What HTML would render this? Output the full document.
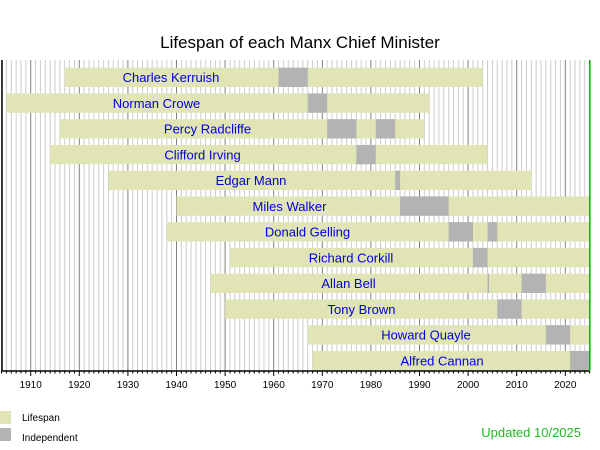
<!DOCTYPE html>
<html><head><meta charset="utf-8"><style>body{margin:0;background:#fff}svg{display:block}text{font-family:"Liberation Sans",sans-serif}</style></head>
<body>
<svg id="s" width="600" height="450" xmlns="http://www.w3.org/2000/svg">
<text x="300" y="48" font-size="17" text-anchor="middle" fill="#000">Lifespan of each Manx Chief Minister</text>
<g id="g"></g>
<text x="22" y="421" font-size="10">Lifespan</text>
<text x="22" y="441" font-size="10">Independent</text>
<rect x="0" y="411" width="11" height="13" fill="#e1e4b4"/>
<rect x="0" y="428" width="11" height="13" fill="#b3b3b3"/>
<text x="581" y="437" font-size="13" text-anchor="end" fill="#22b822">Updated 10/2025</text>
</svg>
<script>
var X=function(y){return 419.5+(y-1990)*4.86};
var h='';
for(var y=1904;y<=2025;y++){var x=X(y);var maj=y%10==0;
h+='<line x1="'+x+'" y1="60" x2="'+x+'" y2="371" stroke="'+(maj?'#808080':'#cccccc')+'" stroke-width="1"/>';
h+='<line x1="'+x+'" y1="371" x2="'+x+'" y2="'+(maj?376:373.5)+'" stroke="#000" stroke-width="1"/>';
if(maj)h+='<text x="'+x+'" y="388" font-size="10" text-anchor="middle">'+y+'</text>';}
var d=[["Charles Kerruish",1917,2003,[[1961,1967]],171],
["Norman Crowe",1905,1992,[[1967,1971]],156.5],
["Percy Radcliffe",1916,1991,[[1971,1977],[1981,1985]],207.5],
["Clifford Irving",1914,2004,[[1977,1981]],202.5],
["Edgar Mann",1926,2013,[[1985,1986]],251],
["Miles Walker",1940,2025,[[1986,1996]],289.5],
["Donald Gelling",1938,2025,[[1996,2001],[2004,2006]],307.5],
["Richard Corkill",1951,2025,[[2001,2004]],351],
["Allan Bell",1947,2025,[[2004,2004.3],[2011,2016]],348.5],
["Tony Brown",1950,2025,[[2006,2011]],361.5],
["Howard Quayle",1967,2025,[[2016,2021]],426],
["Alfred Cannan",1968,2025,[[2021,2025]],442]];
d.forEach(function(r,i){var t=67.7+i*25.75;
h+='<rect x="'+X(r[1])+'" y="'+t+'" width="'+(X(r[2])-X(r[1]))+'" height="19.3" fill="#e1e4b4"/>';
r[3].forEach(function(s){h+='<rect x="'+X(s[0])+'" y="'+t+'" width="'+(X(s[1])-X(s[0]))+'" height="19.3" fill="#b3b3b3"/>';});
h+='<text x="'+r[4]+'" y="'+(t+14.5)+'" font-size="13" text-anchor="middle" fill="#0000dd">'+r[0]+'</text>';});
h+='<line x1="2" y1="60" x2="2" y2="371" stroke="#000" stroke-width="1.5"/>';
h+='<line x1="2" y1="371" x2="590" y2="371" stroke="#000" stroke-width="1.5"/>';
h+='<line x1="589.8" y1="60" x2="589.8" y2="371" stroke="#00b000" stroke-width="1.5"/>';
document.getElementById('g').innerHTML=h;
</script>
</body></html>
